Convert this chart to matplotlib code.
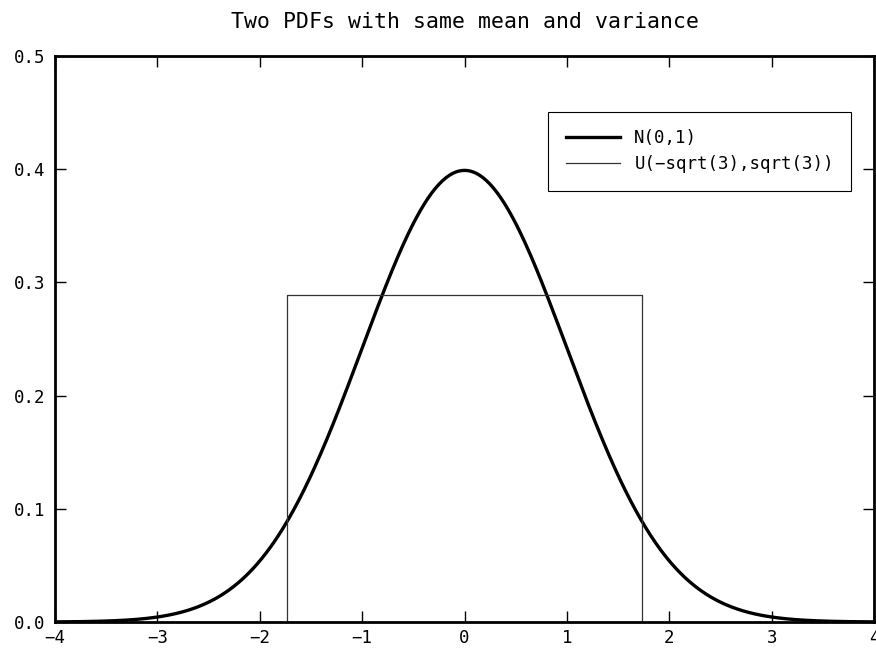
import numpy as np
import matplotlib
matplotlib.use("Agg")
import matplotlib.pyplot as plt

# distribution parameters
mu = 0.0
sigma = 1.0
half_width = np.sqrt(3.0)

x_limits = [-4, 4]
y_limits = [0, 0.5]
x_ticks = [-4, -3, -2, -1, 0, 1, 2, 3, 4]
y_ticks = [0.0, 0.1, 0.2, 0.3, 0.4, 0.5]

labels = ["N(0,1)", "U(\u2212sqrt(3),sqrt(3))"]
title = "Two PDFs with same mean and variance"

x = np.linspace(x_limits[0], x_limits[1], 801)
normal_pdf = np.exp(-0.5 * ((x - mu) / sigma) ** 2) / (sigma * np.sqrt(2 * np.pi))
u_height = 1.0 / (2 * half_width)
u_x = [-half_width, -half_width, half_width, half_width]
u_y = [0, u_height, u_height, 0]

plt.rcParams['font.family'] = ['DejaVu Sans Mono']
fig = plt.figure(figsize=(8.76, 6.51), dpi=100)
ax = fig.add_axes([0.0628, 0.0445, 0.935, 0.8695])

ax.plot(x, normal_pdf, color="black", lw=2.4, label=labels[0])
ax.plot(u_x, u_y, color="#333333", lw=0.9, label=labels[1])

ax.set_xlim(x_limits)
ax.set_ylim(y_limits)
ax.set_xticks(x_ticks)
ax.set_yticks(y_ticks)
ax.set_xticklabels([str(t).replace("-", "\u2212") for t in x_ticks])
ax.set_yticklabels(["%.1f" % t for t in y_ticks])
ax.tick_params(direction="in", length=8, width=1, top=True, right=True,
               labelsize=12.5, pad=7, colors="black")
ax.tick_params(axis="x", pad=5)
for s in ax.spines.values():
    s.set_linewidth(2)

ax.set_title(title, fontsize=15.5, pad=20)

leg = ax.legend(loc="upper right", bbox_to_anchor=(0.972, 0.901), fontsize=12.5,
                fancybox=False, edgecolor="black", framealpha=1,
                handlelength=3.1, handletextpad=0.85, borderpad=1.0,
                labelspacing=0.45, borderaxespad=0)
leg.get_frame().set_linewidth(0.8)

fig.savefig("out.png", dpi=100)
